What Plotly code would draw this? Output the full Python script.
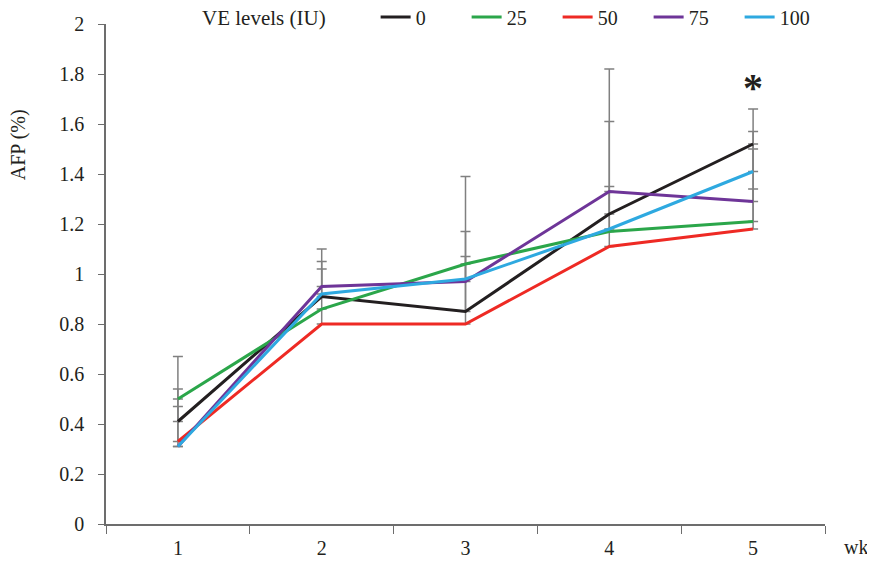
import plotly.graph_objects as go

weeks = ["1", "2", "3", "4", "5"]
series_names = ["0", "25", "50", "75", "100"]
colors = ["#231f20", "#2ba64a", "#ee2a24", "#6e3598", "#2ea9e0"]

afp_0 = [0.41, 0.91, 0.85, 1.24, 1.52]
afp_25 = [0.50, 0.86, 1.04, 1.17, 1.21]
afp_50 = [0.33, 0.80, 0.80, 1.11, 1.18]
afp_75 = [0.31, 0.95, 0.97, 1.33, 1.29]
afp_100 = [0.31, 0.92, 0.98, 1.18, 1.41]

nan = float("nan")
err_0 = [0.13, 0.14, 0.22, 0.37, nan]
err_25 = [nan, nan, nan, nan, 0.13]
err_50 = [0.14, 0.30, 0.59, 0.71, 0.48]
err_75 = [nan, 0.07, nan, nan, 0.21]
err_100 = [0.36, nan, 0.19, 0.17, 0.16]

values = [afp_0, afp_25, afp_50, afp_75, afp_100]
errors = [err_0, err_25, err_50, err_75, err_100]

FONT = "Liberation Serif"
FS = 20
fig = go.Figure()

# error bars first (beneath lines)
for vals, errs in zip(values, errors):
    fig.add_trace(go.Scatter(
        x=weeks, y=vals, mode="markers",
        marker=dict(size=1, opacity=0),
        showlegend=False, hoverinfo="skip",
        error_y=dict(type="data", symmetric=False, array=errs,
                     arrayminus=[0] * len(errs), color="#808080",
                     thickness=1.5, width=5),
    ))

for name, vals, col in zip(series_names, values, colors):
    fig.add_trace(go.Scatter(
        x=weeks, y=vals, mode="lines", name=name,
        line=dict(color=col, width=3),
    ))

fig.add_annotation(x=4, y=1.745, text="<b>*</b>", showarrow=False,
                   font=dict(family=FONT, size=40, color="#231f20"),
                   xanchor="center", yanchor="middle")
fig.add_annotation(xref="paper", yref="paper", x=-0.122, y=0.758,
                   xanchor="center", yanchor="middle",
                   text="AFP (%)", textangle=-90, showarrow=False,
                   font=dict(family=FONT, size=FS, color="#231f20"))
fig.add_annotation(xref="paper", yref="paper", x=1.043, y=-0.045,
                   xanchor="center", yanchor="middle",
                   text="wk", showarrow=False,
                   font=dict(family=FONT, size=FS, color="#231f20"))
fig.add_annotation(xref="paper", yref="paper", x=0.131, y=1.012,
                   xanchor="left", yanchor="middle",
                   text="VE levels (IU)", showarrow=False,
                   font=dict(family=FONT, size=21, color="#231f20"))

fig.update_layout(
    width=867, height=554,
    margin=dict(l=98, r=50, t=16, b=38, autoexpand=False),
    plot_bgcolor="white", paper_bgcolor="white",
    font=dict(family=FONT, size=FS, color="#231f20"),
    legend=dict(orientation="h", x=0.375, xanchor="left", y=1.014,
                yanchor="middle",
                entrywidth=46, font=dict(family=FONT, size=FS),
                bgcolor="rgba(0,0,0,0)"),
    xaxis=dict(type="category", tickson="boundaries", ticks="outside",
               ticklen=8, tickcolor="#6d6d6d", showline=True,
               linecolor="#6d6d6d", linewidth=1.5, showgrid=False,
               ticklabelstandoff=5, range=[-0.5, 4.5]),
    yaxis=dict(range=[0, 2], dtick=0.2, ticks="outside", ticklen=6,
               tickcolor="#6d6d6d", showline=True, linecolor="#6d6d6d",
               linewidth=1.5, showgrid=False, zeroline=False,
               ticklabelstandoff=10),
)

fig.write_html("out.html")
